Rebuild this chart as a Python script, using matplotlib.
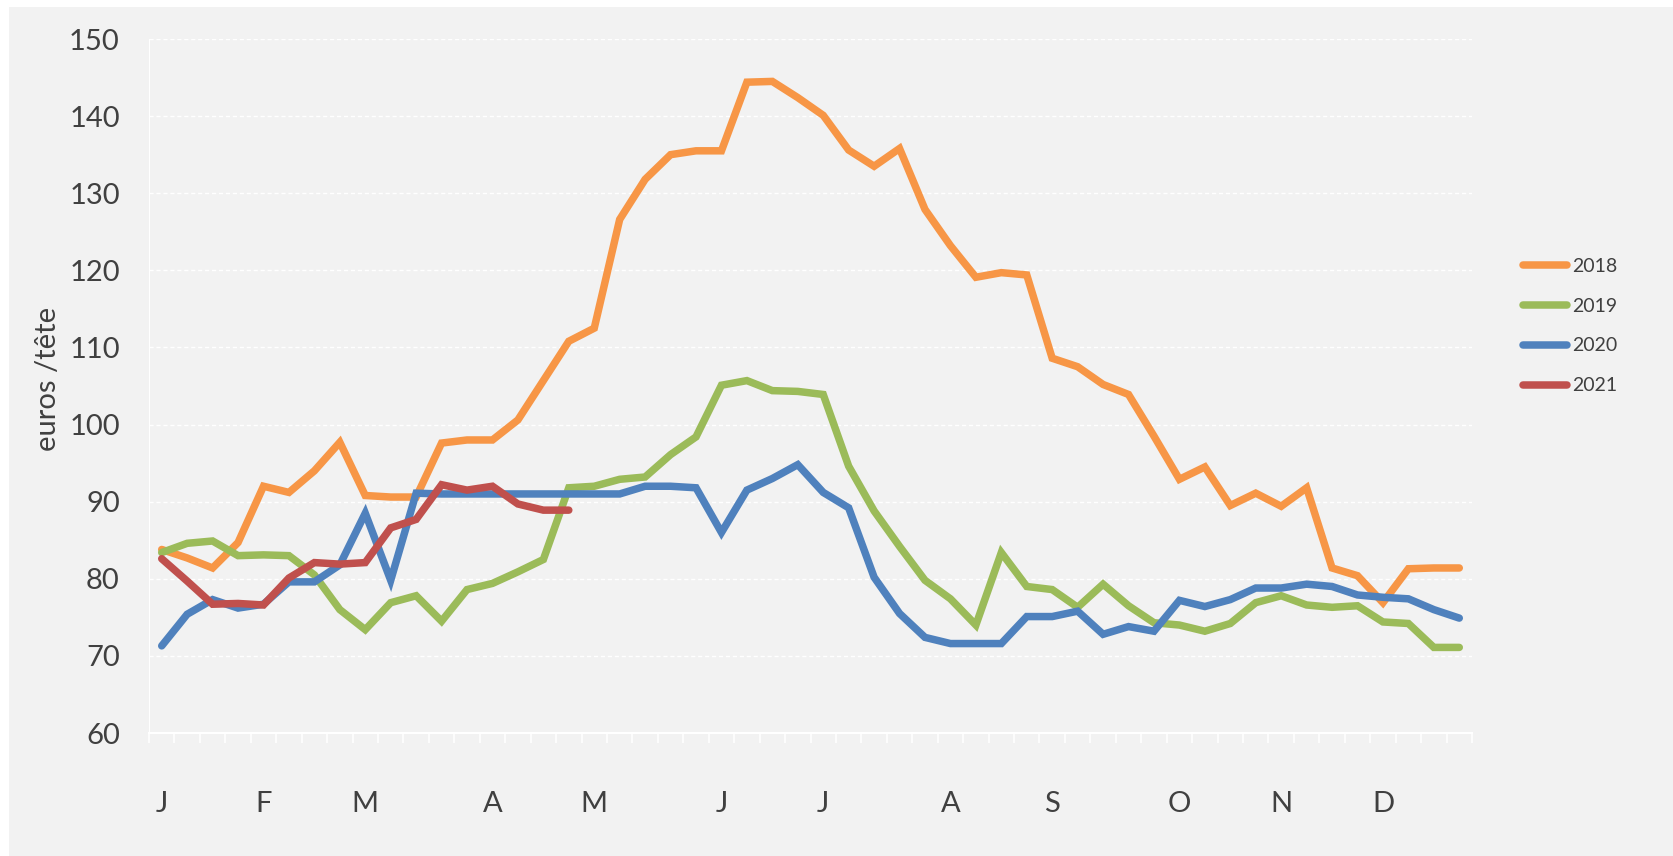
import numpy as np
import matplotlib.pyplot as plt
from matplotlib.patches import Rectangle

plt.rcParams['font.family'] = ['Lato', 'DejaVu Sans']

# weekly prices, euros / tete
weeks = np.arange(52)
month_labels = ["J", "F", "M", "A", "M", "J", "J", "A", "S", "O", "N", "D"]
month_weeks = [0, 4, 8, 13, 17, 22, 26, 31, 35, 40, 44, 48]

y2018 = [83.8, 82.7, 81.4, 84.7, 92.0, 91.2, 94.0, 97.7, 90.8, 90.6,
         90.6, 97.6, 98.0, 98.0, 100.6, 105.7, 110.8, 112.5, 126.6, 131.8,
         135.0, 135.5, 135.5, 144.4, 144.5, 142.4, 140.1, 135.6, 133.5, 135.8,
         127.9, 123.2, 119.1, 119.7, 119.4, 108.6, 107.5, 105.2, 103.9, 98.5,
         92.9, 94.5, 89.5, 91.1, 89.4, 91.8, 81.4, 80.4, 76.9, 81.3,
         81.4, 81.4]
y2019 = [83.4, 84.6, 84.9, 83.0, 83.1, 83.0, 80.5, 76.0, 73.4, 76.9,
         77.8, 74.5, 78.6, 79.4, 80.9, 82.5, 91.8, 92.0, 92.9, 93.2,
         96.1, 98.4, 105.1, 105.7, 104.4, 104.3, 103.9, 94.6, 88.8, 84.2,
         79.8, 77.4, 74.0, 83.4, 79.0, 78.6, 76.3, 79.3, 76.5, 74.3,
         74.0, 73.2, 74.2, 76.9, 77.8, 76.6, 76.3, 76.5, 74.4, 74.2,
         71.1, 71.1]
y2020 = [71.3, 75.4, 77.3, 76.2, 76.7, 79.6, 79.6, 81.8, 88.5, 79.8,
         91.1, 91.0, 91.0, 91.0, 91.0, 91.0, 91.0, 91.0, 91.0, 92.0,
         92.0, 91.8, 86.0, 91.5, 93.0, 94.8, 91.2, 89.2, 80.2, 75.5,
         72.4, 71.6, 71.6, 71.6, 75.1, 75.1, 75.8, 72.8, 73.8, 73.2,
         77.2, 76.4, 77.3, 78.8, 78.8, 79.3, 79.0, 77.9, 77.6, 77.4,
         76.0, 74.9]
y2021 = [82.6, 79.7, 76.7, 76.8, 76.6, 80.1, 82.1, 81.9, 82.1, 86.6,
         87.7, 92.2, 91.5, 92.0, 89.7, 88.9, 88.9]

series = [("2018", y2018, "#F79646"),
          ("2019", y2019, "#9BBB59"),
          ("2020", y2020, "#4F81BD"),
          ("2021", y2021, "#C0504D")]

txt = "#404040"
fig = plt.figure(figsize=(16.73, 8.56), dpi=100)
fig.patch.set_facecolor("white")
fig.patches.append(Rectangle((9 / 1673, 0), 1, 1 - 7 / 856, transform=fig.transFigure,
                             facecolor="#F2F2F2", edgecolor="none", zorder=-10))

ax = fig.add_axes([149 / 1673, 1 - 733 / 856, (1472 - 149) / 1673, (733 - 39) / 856])
ax.set_facecolor("none")

for name, vals, col in series:
    ax.plot(weeks[:len(vals)], vals, color=col, lw=5.4, label=name,
            solid_joinstyle="miter", solid_capstyle="round")

ax.set_xlim(-0.5, 51.5)
ax.set_ylim(60, 150)
ax.set_yticks(np.arange(60, 151, 10))
ax.set_xticks(month_weeks)
ax.set_xticklabels(month_labels)
ax.set_xticks(np.arange(-0.5, 52, 1), minor=True)

ax.tick_params(axis="y", length=0, pad=21, labelsize=21, labelcolor=txt)
ax.tick_params(axis="x", which="major", length=0, pad=42, labelsize=21, labelcolor=txt)
ax.tick_params(axis="x", which="minor", length=7, width=1.2, color="white", direction="out")

ax.grid(axis="y", color="white", lw=1, ls=(0, (3, 2)))
ax.set_axisbelow(True)
for side in ["top", "right"]:
    ax.spines[side].set_visible(False)
ax.spines["left"].set_color("white")
ax.spines["bottom"].set_color("white")
ax.spines["bottom"].set_linewidth(1.5)

fig.text(48 / 1673, 1 - 379 / 856, "euros /tête", rotation=90, ha="center", va="center",
         fontsize=21, color=txt)

leg = ax.legend(loc="center left", bbox_to_anchor=(1505 / 1673, 1 - 326 / 856),
                bbox_transform=fig.transFigure, frameon=False, fontsize=14,
                handlelength=2.3, handletextpad=0.25, labelspacing=1.18)
for t in leg.get_texts():
    t.set_color(txt)

fig.savefig("out.png", dpi=100)
